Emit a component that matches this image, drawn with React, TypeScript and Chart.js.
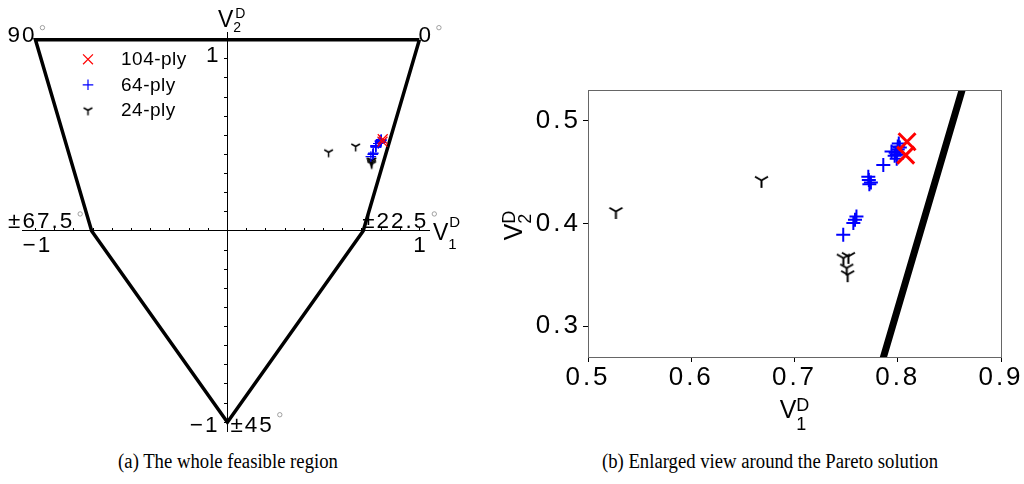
import React, { useEffect, useRef } from 'react';
import { Chart, registerables } from 'chart.js';
import { drawPoint } from 'chart.js/helpers';

Chart.register(...registerables);

const SANS = '"Liberation Sans", Arial, Helvetica, sans-serif';
const SERIF = '"Liberation Serif", "Times New Roman", serif';

// Corners of the feasible region in the (V1, V2) plane: 0°, ±22.5°, ±45°, ±67.5°, 90°, back to 0°
const regionV1 = [1, 0.7071, 0, -0.7071, -1, 1];
const regionV2 = [1, 0, -1, 0, 1, 1];

// Lamination parameters of the optimised laminates
const ply104V1 = [0.809, 0.8077];
const ply104V2 = [0.4796, 0.4666];

const ply64V1 = [0.799, 0.798, 0.8, 0.801, 0.797, 0.8, 0.802, 0.799, 0.794, 0.786, 0.7715, 0.772, 0.7725, 0.774, 0.76, 0.7586, 0.757, 0.7472];
const ply64V2 = [0.463, 0.469, 0.472, 0.478, 0.466, 0.475, 0.474, 0.467, 0.47, 0.457, 0.4456, 0.4424, 0.4382, 0.44, 0.4068, 0.4036, 0.4004, 0.389];

const ply24V1 = [0.527, 0.668, 0.7473, 0.7522, 0.7506, 0.7515];
const ply24V2 = [0.4117, 0.442, 0.3664, 0.368, 0.3567, 0.3502];

const seriesLabels = ['104-ply', '64-ply', '24-ply'];
const RED = '#ff0000';
const BLUE = '#0000ff';
const BLACK = '#000000';

const wholeTicks = [-1, -0.9, -0.8, -0.7, -0.6, -0.5, -0.4, -0.3, -0.2, -0.1, 0, 0.1, 0.2, 0.3, 0.4, 0.5, 0.6, 0.7, 0.8, 0.9, 1];
const zoomXTicks = [0.5, 0.6, 0.7, 0.8, 0.9];
const zoomYTicks = [0.3, 0.4, 0.5];

const pts = (xs: number[], ys: number[]) => xs.map((x, i) => ({ x, y: ys[i] }));

// "tri_down" marker: a Y with one stem down and two arms up
function makeTri(r: number, lw: number, color: string) {
  const size = Math.ceil(2 * r + 2 * lw + 2);
  const c = document.createElement('canvas');
  c.width = size;
  c.height = size;
  const g = c.getContext('2d')!;
  const cx = size / 2;
  const cy = size / 2;
  g.strokeStyle = color;
  g.lineWidth = lw;
  g.beginPath();
  g.moveTo(cx, cy);
  g.lineTo(cx, cy + r);
  g.moveTo(cx, cy);
  g.lineTo(cx - 0.866 * r, cy - 0.5 * r);
  g.moveTo(cx, cy);
  g.lineTo(cx + 0.866 * r, cy - 0.5 * r);
  g.stroke();
  return c;
}

// Draws V with a subscript and a "D" superscript
function drawSymbol(
  ctx: CanvasRenderingContext2D,
  x: number,
  y: number,
  sub: string,
  o: { size: number; small: number; subDy: number; supDy: number; supDx?: number; center?: boolean }
) {
  ctx.font = `${o.size}px ${SANS}`;
  const wV = ctx.measureText('V').width;
  ctx.font = `${o.small}px ${SANS}`;
  const wS = Math.max(ctx.measureText(sub).width, ctx.measureText('D').width + (o.supDx || 0));
  const x0 = o.center ? x - (wV + wS) / 2 : x;
  ctx.textAlign = 'left';
  ctx.font = `${o.size}px ${SANS}`;
  ctx.fillText('V', x0, y);
  ctx.font = `${o.small}px ${SANS}`;
  ctx.fillText(sub, x0 + wV, y + o.subDy);
  ctx.fillText('D', x0 + wV + (o.supDx || 0), y + o.supDy);
}

function degree(ctx: CanvasRenderingContext2D, x: number, y: number) {
  ctx.save();
  ctx.strokeStyle = '#8a8a8a';
  ctx.lineWidth = 0.8;
  ctx.beginPath();
  ctx.arc(x, y, 2.2, 0, Math.PI * 2);
  ctx.stroke();
  ctx.restore();
}

const wholeDecor = {
  id: 'wholeDecor',
  afterDraw(chart: any) {
    const ctx: CanvasRenderingContext2D = chart.ctx;
    const a = chart.chartArea;
    const xs = chart.scales.x;
    const ys = chart.scales.y;
    const X = (v: number) => xs.getPixelForValue(v);
    const Y = (v: number) => ys.getPixelForValue(v);
    ctx.save();
    ctx.fillStyle = '#000';
    (ctx as any).letterSpacing = '2px';
    ctx.textBaseline = 'alphabetic';
    ctx.font = `22.5px ${SANS}`;
    const t = (s: string, x: number, y: number, al: CanvasTextAlign) => {
      ctx.textAlign = al;
      ctx.fillText(s, x, y);
    };
    // ply-angle label with a degree mark after it
    const angle = (s: string, x: number, y: number, al: CanvasTextAlign, dy = -14) => {
      const w = ctx.measureText(s).width - 2;
      const left = al === 'right' ? x - w - 2 : x;
      t(s, x, y, al);
      degree(ctx, left + w + 8, y + dy);
    };
    angle('90', X(-1) + 1, Y(1) + 2, 'right');
    angle('0', X(1) - 1, Y(1) + 2, 'left');
    angle('±67.5', X(-0.7071) - 17.5, Y(0) - 3, 'right');
    angle('±22.5', X(0.7071) - 1, Y(0) - 3, 'left');
    angle('±45', X(0) + 3, Y(-1) + 9.5, 'left', -17);
    // axis values
    t('−1', X(-1) + 2, Y(0) + 21, 'center');
    t('1', X(1) + 1, Y(0) + 21, 'center');
    t('1', X(0) - 7, Y(1) + 22, 'right');
    t('−1', X(0) - 8, Y(-1) + 9.5, 'right');
    (ctx as any).letterSpacing = '0px';
    // axis names
    drawSymbol(ctx, a.right + 4, Y(0) + 9, '1', { size: 23, small: 15, subDy: 9.5, supDy: -13, supDx: 1 });
    drawSymbol(ctx, X(0) - 9.5, a.top - 5, '2', { size: 23, small: 14, subDy: 5, supDy: -8.7, supDx: 2 });
    // legend
    (ctx as any).letterSpacing = '0.5px';
    ctx.font = `19px ${SANS}`;
    ctx.textAlign = 'left';
    seriesLabels.forEach((lab, i) => {
      const ds = chart.data.datasets[i];
      const ly = a.top + 27.3 + i * 25.5;
      ctx.save();
      ctx.strokeStyle = ds.borderColor;
      ctx.fillStyle = ds.borderColor;
      ctx.lineWidth = ds.borderWidth;
      drawPoint(ctx, { pointStyle: ds.pointStyle, radius: ds.pointRadius, rotation: 0, borderWidth: ds.borderWidth } as any, a.left + 66, ly);
      ctx.restore();
      ctx.fillStyle = '#000';
      ctx.fillText(lab, a.left + 99, ly + 6);
    });
    ctx.restore();
  },
};

const zoomDecor = {
  id: 'zoomDecor',
  beforeDraw(chart: any) {
    (chart.ctx as any).letterSpacing = '3px';
  },
  afterDraw(chart: any) {
    const ctx: CanvasRenderingContext2D = chart.ctx;
    const a = chart.chartArea;
    ctx.save();
    (ctx as any).letterSpacing = '0px';
    ctx.strokeStyle = '#666';
    ctx.lineWidth = 1;
    ctx.strokeRect(Math.round(a.left) + 0.5, Math.round(a.top) + 0.5, Math.round(a.right - a.left), Math.round(a.bottom - a.top));
    ctx.fillStyle = '#000';
    ctx.textBaseline = 'alphabetic';
    drawSymbol(ctx, (a.left + a.right) / 2, a.bottom + 61, '1', { size: 25, small: 18, subDy: 11.7, supDy: -6.6, center: true });
    ctx.translate(a.left - 66, (a.top + a.bottom) / 2 + 2);
    ctx.rotate(-Math.PI / 2);
    drawSymbol(ctx, 0, 0, '2', { size: 25, small: 18, subDy: 8.5, supDy: -6.6, center: true });
    ctx.restore();
  },
};

export default function App() {
  const wholeRef = useRef<HTMLCanvasElement>(null);
  const zoomRef = useRef<HTMLCanvasElement>(null);

  useEffect(() => {
    Chart.defaults.font.family = SANS;
    Chart.defaults.color = '#000';
    const triSmall = makeTri(5, 1.5, BLACK);
    const triLarge = makeTri(7.5, 2, BLACK);

    const whole = new Chart(wholeRef.current!, {
      type: 'scatter',
      data: {
        datasets: [
          { label: seriesLabels[0], data: pts(ply104V1, ply104V2), pointStyle: 'crossRot', pointRadius: 7, borderColor: RED, backgroundColor: RED, borderWidth: 1.2 },
          { label: seriesLabels[1], data: pts(ply64V1, ply64V2), pointStyle: 'cross', pointRadius: 5.3, borderColor: BLUE, backgroundColor: BLUE, borderWidth: 1.2 },
          { label: seriesLabels[2], data: pts(ply24V1, ply24V2), pointStyle: triSmall as any, pointRadius: 5, borderColor: BLACK, backgroundColor: BLACK, borderWidth: 1.5 },
          { label: 'region', data: pts(regionV1, regionV2), showLine: true, borderColor: BLACK, borderWidth: 3.5, pointRadius: 0, fill: false, clip: false as any },
        ] as any,
      },
      options: {
        responsive: false,
        animation: false,
        events: [],
        layout: { padding: { left: 22, top: 32, right: 31, bottom: 7 } },
        plugins: { legend: { display: false }, tooltip: { enabled: false } },
        scales: {
          x: {
            type: 'linear',
            min: -1.07,
            max: 1.05,
            position: { y: 0 } as any,
            afterBuildTicks: (s: any) => { s.ticks = wholeTicks.map((v) => ({ value: v })); },
            ticks: { display: false },
            grid: { drawOnChartArea: false, drawTicks: true, tickLength: -3, color: BLACK },
            border: { display: true, color: BLACK, width: 1 },
          },
          y: {
            type: 'linear',
            min: -1.05,
            max: 1.04,
            position: { x: 0 } as any,
            afterBuildTicks: (s: any) => { s.ticks = wholeTicks.map((v) => ({ value: v })); },
            ticks: { display: false },
            grid: { drawOnChartArea: false, drawTicks: true, tickLength: 3, color: BLACK },
            border: { display: true, color: BLACK, width: 1 },
          },
        },
      },
      plugins: [wholeDecor],
    });

    const zoom = new Chart(zoomRef.current!, {
      type: 'scatter',
      data: {
        datasets: [
          { label: seriesLabels[0], data: pts(ply104V1, ply104V2), pointStyle: 'crossRot', pointRadius: 12, borderColor: RED, backgroundColor: RED, borderWidth: 3 },
          { label: seriesLabels[1], data: pts(ply64V1, ply64V2), pointStyle: 'cross', pointRadius: 7, borderColor: BLUE, backgroundColor: BLUE, borderWidth: 2 },
          { label: seriesLabels[2], data: pts(ply24V1, ply24V2), pointStyle: triLarge as any, pointRadius: 7, borderColor: BLACK, backgroundColor: BLACK, borderWidth: 2 },
          { label: 'region', data: pts(regionV1, regionV2), showLine: true, borderColor: BLACK, borderWidth: 7, pointRadius: 0, fill: false, clip: 0 },
        ] as any,
      },
      options: {
        responsive: false,
        animation: false,
        events: [],
        layout: { padding: { left: 28, top: 90, right: 23, bottom: 43 } },
        plugins: { legend: { display: false }, tooltip: { enabled: false } },
        scales: {
          x: {
            type: 'linear',
            min: 0.5,
            max: 0.9,
            afterBuildTicks: (s: any) => { s.ticks = zoomXTicks.map((v) => ({ value: v })); },
            afterFit: (s: any) => { s.height = 40; },
            ticks: { color: BLACK, font: { size: 26 }, padding: 0, maxRotation: 0, autoSkip: false, callback: (v: any) => Number(v).toFixed(1) },
            grid: { drawOnChartArea: false, drawTicks: true, tickLength: 5, color: BLACK },
            border: { display: false },
          },
          y: {
            type: 'linear',
            min: 0.27,
            max: 0.53,
            afterBuildTicks: (s: any) => { s.ticks = zoomYTicks.map((v) => ({ value: v })); },
            afterFit: (s: any) => { s.width = 80; },
            ticks: { color: BLACK, font: { size: 26 }, padding: 2, autoSkip: false, callback: (v: any) => Number(v).toFixed(1) },
            grid: { drawOnChartArea: false, drawTicks: true, tickLength: 5, color: BLACK },
            border: { display: false },
          },
        },
      },
      plugins: [zoomDecor],
    });

    return () => {
      whole.destroy();
      zoom.destroy();
    };
  }, []);

  const caption: React.CSSProperties = {
    position: 'absolute',
    top: 451,
    font: `20.5px ${SERIF}`,
    lineHeight: 1,
    whiteSpace: 'nowrap',
    transform: 'translateX(-50%) scaleX(0.912)',
    transformOrigin: '50% 50%',
    color: '#000',
  };

  return (
    <div style={{ position: 'fixed', left: 0, top: 0, width: 1024, height: 484, background: '#fff', overflow: 'hidden' }}>
      <canvas ref={wholeRef} width={460} height={440} style={{ position: 'absolute', left: 0, top: 0, width: 460, height: 440 }} />
      <canvas ref={zoomRef} width={544} height={440} style={{ position: 'absolute', left: 480, top: 0, width: 544, height: 440 }} />
      <div style={{ ...caption, left: 228 }}>(a) The whole feasible region</div>
      <div style={{ ...caption, left: 769.5 }}>(b) Enlarged view around the Pareto solution</div>
    </div>
  );
}
